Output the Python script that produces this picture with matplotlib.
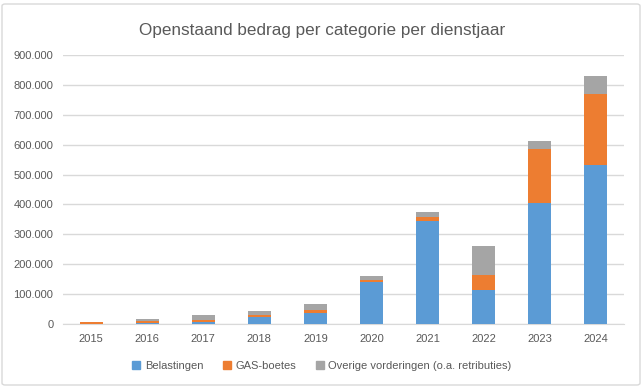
import matplotlib
matplotlib.use('Agg')
import matplotlib.pyplot as plt
from matplotlib.patches import FancyBboxPatch, Patch
from matplotlib.ticker import FuncFormatter

years = ['2015', '2016', '2017', '2018', '2019', '2020', '2021', '2022', '2023', '2024']
belastingen = [500, 3000, 7800, 22000, 37000, 141600, 344600, 115000, 404800, 532000]
gas_boetes = [7000, 7000, 6700, 7000, 10000, 6400, 13400, 49000, 180700, 239000]
overige = [0, 7800, 15500, 14500, 20000, 12600, 16800, 97000, 26500, 58800]

labels = ['Belastingen', 'GAS-boetes', 'Overige vorderingen (o.a. retributies)']
colors = ['#5B9BD5', '#ED7D31', '#A5A5A5']
txt = '#595959'

plt.rcParams['font.family'] = ['Liberation Sans', 'DejaVu Sans']

fig = plt.figure(figsize=(6.44, 3.87), dpi=100)
ax = fig.add_axes([63 / 644, 1 - 324 / 387, (624 - 63) / 644, (324 - 55) / 387])

x = range(len(years))
bottom2 = [a + b for a, b in zip(belastingen, gas_boetes)]
ax.bar(x, belastingen, width=0.41, color=colors[0], zorder=3)
ax.bar(x, gas_boetes, width=0.41, bottom=belastingen, color=colors[1], zorder=3)
ax.bar(x, overige, width=0.41, bottom=bottom2, color=colors[2], zorder=3)

ax.set_ylim(0, 900000)
ax.set_xlim(-0.5, len(years) - 0.5)
ax.set_yticks(range(0, 900001, 100000))
ax.yaxis.set_major_formatter(FuncFormatter(lambda v, p: '{:,.0f}'.format(v).replace(',', '.')))
ax.set_xticks(list(x))
ax.set_xticklabels(years)
ax.tick_params(length=0, labelsize=8, colors=txt, pad=7)
ax.grid(axis='y', color='#D9D9D9', linewidth=1, zorder=0)
for s in ['top', 'right', 'left']:
    ax.spines[s].set_visible(False)
ax.spines['bottom'].set_color('#D9D9D9')

fig.text(0.5, 1 - 30 / 387, 'Openstaand bedrag per categorie per dienstjaar',
         ha='center', va='center', fontsize=12.3, color=txt)

handles = [Patch(color=c, label=l) for c, l in zip(colors, labels)]
fig.legend(handles=handles, loc='center', bbox_to_anchor=(0.5, 1 - 366 / 387), ncol=3,
           frameon=False, fontsize=8, labelcolor=txt, handlelength=0.7, handleheight=0.7,
           handletextpad=0.4, columnspacing=1.8)

fig.patches.append(FancyBboxPatch((2 / 644, 2 / 387), 638 / 644, 381 / 387,
                                  boxstyle='round,pad=0,rounding_size=0.005',
                                  transform=fig.transFigure, fill=False,
                                  edgecolor='#D9D9D9', linewidth=1))

fig.savefig('out.png', dpi=100)
